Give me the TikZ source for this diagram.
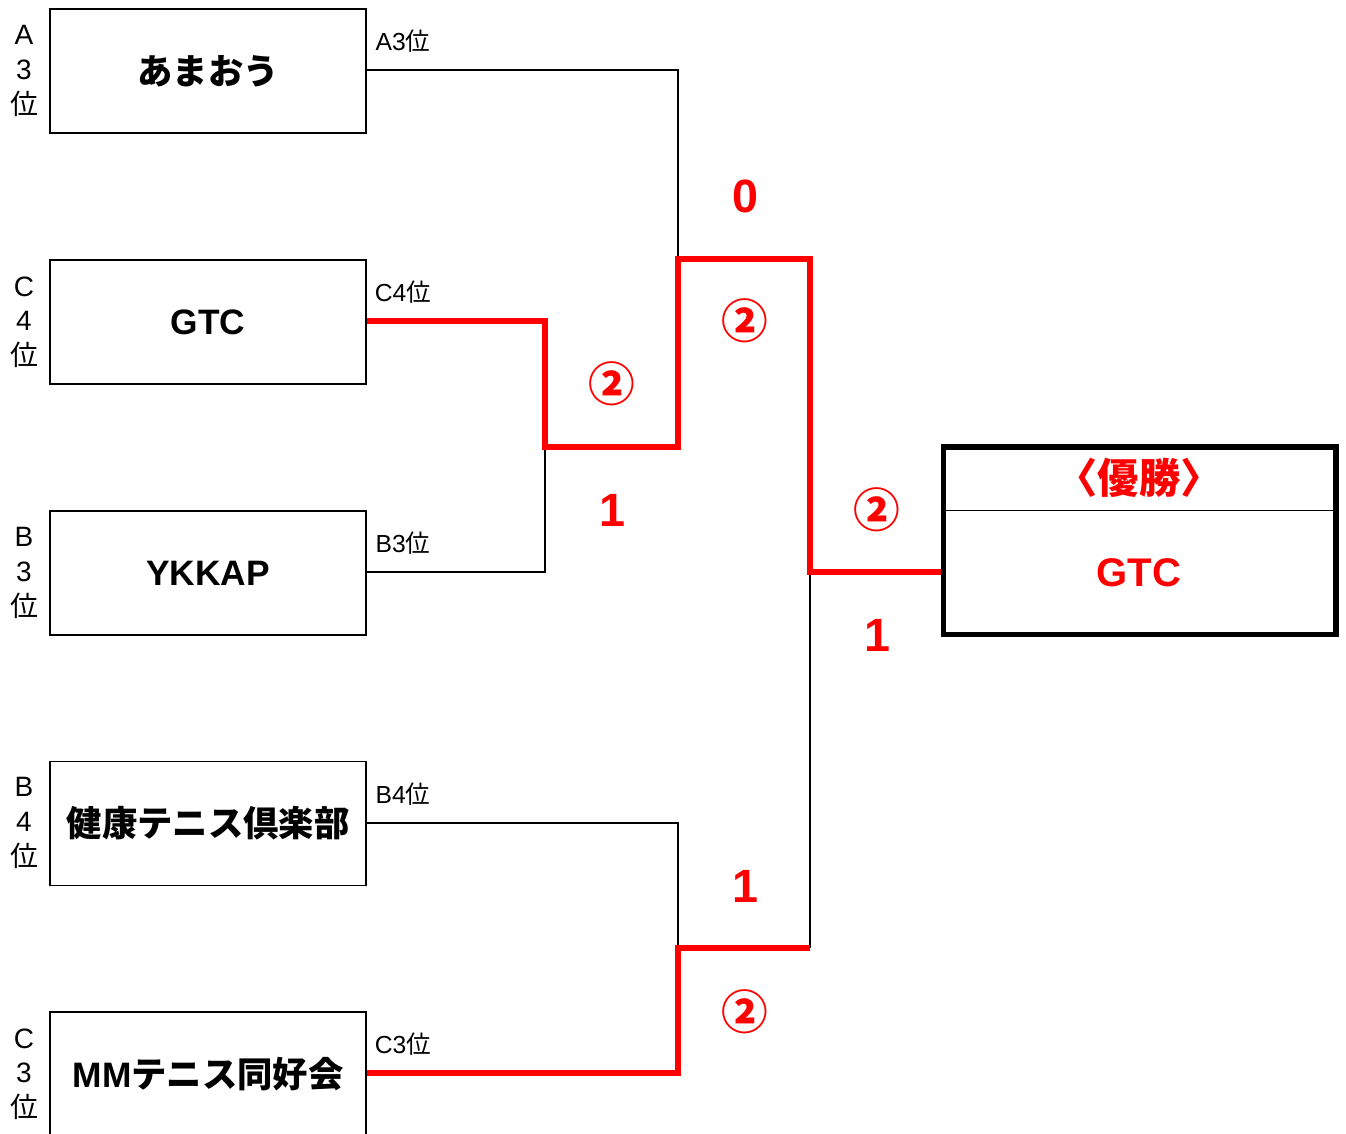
\documentclass[tikz,border=0pt]{standalone}
\usepackage{fontspec}
\setmainfont{Liberation Sans}
\newfontfamily\jp{Noto Sans CJK JP}
\begin{document}
\begin{tikzpicture}[x=0.75pt,y=-0.75pt,
  team/.style={draw,line width=0.9pt,minimum width=237pt,minimum height=93pt,inner sep=0pt,font=\fontsize{26.5}{30}\selectfont\bfseries},
  rank/.style={align=center,font=\fontsize{21}{26}\selectfont,inner sep=0pt},
  tag/.style={font=\fontsize{18.5}{20}\selectfont,inner sep=0pt},
  score/.style={text=red,font=\fontsize{35}{38}\selectfont\bfseries,inner sep=0pt},
  circ/.style={text=red,font=\fontsize{35}{38}\selectfont\jp\bfseries,inner sep=0pt},
  blk/.style={draw=black,line width=1.6pt},
  rd/.style={draw=red,line width=3.8pt},
]
\useasboundingbox (0,0) rectangle (1346,1133);
\fill[white] (0,0) rectangle (1346,1133);

% teams
\node[team] (t1) at (208,71) {\jp あまおう};
\node[team] (t2) at (208,322) {GTC};
\node[team] (t3) at (208,573) {YKKAP};
\node[team] (t4) at (208,823.5) {\jp 健康テニス倶楽部};
\node[team,minimum height=96pt] (t5) at (208,1076) {};
\node[font=\fontsize{26.5}{30}\selectfont\bfseries,inner sep=0pt] (t5l) at (208,1074) {MM{\jp テニス同好会}};

% rank labels left
\node[rank] (r1) at (24,71) {A\\3\\{\jp 位}};
\node[rank] (r2) at (24,322) {C\\4\\{\jp 位}};
\node[rank] (r3) at (24,573) {B\\3\\{\jp 位}};
\node[rank] (r4) at (24,823) {B\\4\\{\jp 位}};
\node[rank] (r5) at (24,1074) {C\\3\\{\jp 位}};

% tags
\node[tag] (g1) at (403,41) {A3{\jp 位}};
\node[tag] (g2) at (403,292) {C4{\jp 位}};
\node[tag] (g3) at (403,543) {B3{\jp 位}};
\node[tag] (g4) at (403,794) {B4{\jp 位}};
\node[tag] (g5) at (403,1044) {C3{\jp 位}};

% junction coordinates
\coordinate (q1) at (545,447);
\coordinate (s1) at (678,259);
\coordinate (s1r) at (810,259);
\coordinate (f) at (810,572);
\coordinate (s2) at (678,948);
\coordinate (s2r) at (810,948);

% winner box
\node[draw,line width=4.1pt,minimum width=294.4pt,minimum height=140.6pt,inner sep=0pt] (w) at (1139.75,540.75) {};
\coordinate (d) at (0,510.3);
\draw[line width=0.9pt] (w.west |- d) -- (w.east |- d);
\node[text=red,font=\fontsize{31}{34}\selectfont\bfseries\jp,inner sep=0pt] (wt) at (1139,478) {〈優勝〉};
\node[text=red,font=\fontsize{30}{32}\selectfont\bfseries,inner sep=0pt] (wn) at (1139,573) {GTC};

% black connectors
\draw[blk] (t1.east |- 0,70) -| (s1);
\draw[blk] (t3.east |- 0,572) -| (q1);
\draw[blk] (t4.east |- 0,823) -| (s2);
\draw[blk] (s2r) -- (f);

% red connectors
\draw[rd,line join=miter] (t2.east |- 0,321) -| (q1) -| (s1) -- (s1r) -- (f) -- (w.west |- f);
\draw[rd,line join=miter] (t5.east |- 0,1073) -| (s2) -- (s2r);

% scores
\node[score] (c1) at (745,196) {0};
\node[circ] (c2) at (745,321) {②};
\node[circ] (c3) at (612,384) {②};
\node[score] (c4) at (612,510) {1};
\node[circ] (c5) at (877,510) {②};
\node[score] (c6) at (877,635) {1};
\node[score] (c7) at (745,886) {1};
\node[circ] (c8) at (745,1012) {②};
\end{tikzpicture}
\end{document}
